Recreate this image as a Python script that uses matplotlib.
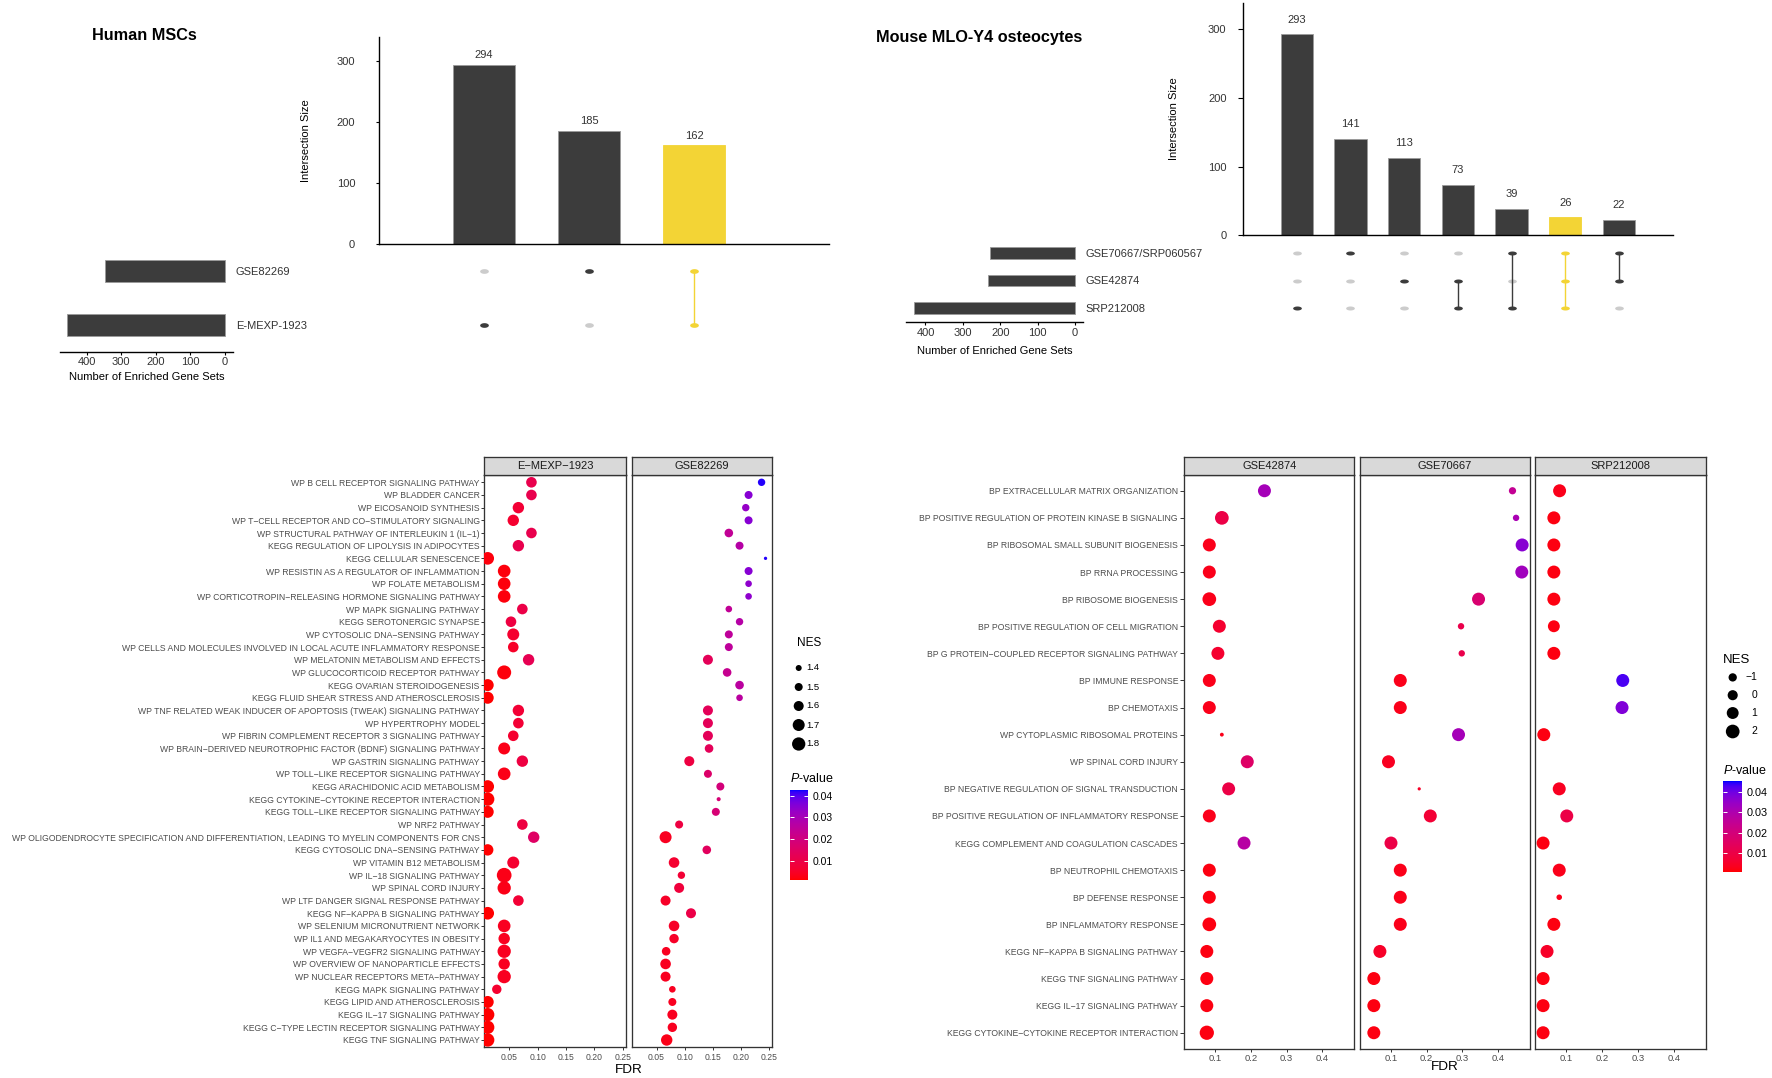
import numpy as np
import matplotlib
matplotlib.use('Agg')
import matplotlib.pyplot as plt
from matplotlib.path import Path
from matplotlib.markers import MarkerStyle
from matplotlib.colors import ListedColormap, Normalize
from matplotlib.cm import ScalarMappable

# ---------------- data ----------------
human_sets = ['GSE82269', 'E-MEXP-1923']
human_set_sizes = [347, 456]
human_inter_sizes = [294, 185, 162]
human_inter_members = [[1], [0], [0, 1]]
human_highlight = 2

mouse_sets = ['GSE70667/SRP060567', 'GSE42874', 'SRP212008']
mouse_set_sizes = [228, 234, 431]
mouse_inter_sizes = [293, 141, 113, 73, 39, 26, 22]
mouse_inter_members = [[2], [0], [1], [1, 2], [0, 2], [0, 1, 2], [0, 1]]
mouse_highlight = 5

human_terms = [
    'WP B CELL RECEPTOR SIGNALING PATHWAY', 'WP BLADDER CANCER', 'WP EICOSANOID SYNTHESIS',
    'WP T-CELL RECEPTOR AND CO-STIMULATORY SIGNALING', 'WP STRUCTURAL PATHWAY OF INTERLEUKIN 1 (IL-1)',
    'KEGG REGULATION OF LIPOLYSIS IN ADIPOCYTES', 'KEGG CELLULAR SENESCENCE',
    'WP RESISTIN AS A REGULATOR OF INFLAMMATION', 'WP FOLATE METABOLISM',
    'WP CORTICOTROPIN-RELEASING HORMONE SIGNALING PATHWAY', 'WP MAPK SIGNALING PATHWAY',
    'KEGG SEROTONERGIC SYNAPSE', 'WP CYTOSOLIC DNA-SENSING PATHWAY',
    'WP CELLS AND MOLECULES INVOLVED IN LOCAL ACUTE INFLAMMATORY RESPONSE',
    'WP MELATONIN METABOLISM AND EFFECTS', 'WP GLUCOCORTICOID RECEPTOR PATHWAY',
    'KEGG OVARIAN STEROIDOGENESIS', 'KEGG FLUID SHEAR STRESS AND ATHEROSCLEROSIS',
    'WP TNF RELATED WEAK INDUCER OF APOPTOSIS (TWEAK) SIGNALING PATHWAY', 'WP HYPERTROPHY MODEL',
    'WP FIBRIN COMPLEMENT RECEPTOR 3 SIGNALING PATHWAY',
    'WP BRAIN-DERIVED NEUROTROPHIC FACTOR (BDNF) SIGNALING PATHWAY', 'WP GASTRIN SIGNALING PATHWAY',
    'WP TOLL-LIKE RECEPTOR SIGNALING PATHWAY', 'KEGG ARACHIDONIC ACID METABOLISM',
    'KEGG CYTOKINE-CYTOKINE RECEPTOR INTERACTION', 'KEGG TOLL-LIKE RECEPTOR SIGNALING PATHWAY',
    'WP NRF2 PATHWAY',
    'WP OLIGODENDROCYTE SPECIFICATION AND DIFFERENTIATION, LEADING TO MYELIN COMPONENTS FOR CNS',
    'KEGG CYTOSOLIC DNA-SENSING PATHWAY', 'WP VITAMIN B12 METABOLISM', 'WP IL-18 SIGNALING PATHWAY',
    'WP SPINAL CORD INJURY', 'WP LTF DANGER SIGNAL RESPONSE PATHWAY', 'KEGG NF-KAPPA B SIGNALING PATHWAY',
    'WP SELENIUM MICRONUTRIENT NETWORK', 'WP IL1 AND MEGAKARYOCYTES IN OBESITY',
    'WP VEGFA-VEGFR2 SIGNALING PATHWAY', 'WP OVERVIEW OF NANOPARTICLE EFFECTS',
    'WP NUCLEAR RECEPTORS META-PATHWAY', 'KEGG MAPK SIGNALING PATHWAY', 'KEGG LIPID AND ATHEROSCLEROSIS',
    'KEGG IL-17 SIGNALING PATHWAY', 'KEGG C-TYPE LECTIN RECEPTOR SIGNALING PATHWAY',
    'KEGG TNF SIGNALING PATHWAY']

human_panels = ['E-MEXP-1923', 'GSE82269']
emexp_fdr = [0.089, 0.089, 0.066, 0.057, 0.089, 0.066, 0.012, 0.041, 0.041, 0.041,
             0.073, 0.053, 0.057, 0.057, 0.084, 0.041, 0.012, 0.012, 0.066, 0.066,
             0.057, 0.041, 0.073, 0.041, 0.012, 0.012, 0.012, 0.073, 0.093, 0.012,
             0.057, 0.041, 0.041, 0.066, 0.012, 0.041, 0.041, 0.041, 0.041, 0.041,
             0.028, 0.012, 0.012, 0.012, 0.012]
emexp_p = [0.011, 0.011, 0.007, 0.006, 0.011, 0.011, 0.002, 0.002, 0.002, 0.002,
           0.010, 0.009, 0.006, 0.005, 0.012, 0.002, 0.001, 0.001, 0.007, 0.007,
           0.006, 0.003, 0.009, 0.003, 0.001, 0.001, 0.001, 0.009, 0.015, 0.001,
           0.006, 0.003, 0.003, 0.007, 0.001, 0.004, 0.004, 0.004, 0.004, 0.004,
           0.006, 0.001, 0.001, 0.001, 0.001]
emexp_nes = [1.63, 1.63, 1.67, 1.67, 1.63, 1.67, 1.75, 1.75, 1.75, 1.75,
             1.63, 1.63, 1.70, 1.63, 1.67, 1.85, 1.70, 1.70, 1.67, 1.63,
             1.63, 1.70, 1.67, 1.75, 1.75, 1.80, 1.70, 1.63, 1.67, 1.67,
             1.70, 1.90, 1.80, 1.63, 1.75, 1.75, 1.67, 1.80, 1.67, 1.80,
             1.57, 1.70, 1.80, 1.80, 1.80]
gse82269_fdr = [0.236, 0.213, 0.208, 0.213, 0.178, 0.197, 0.243, 0.213, 0.213, 0.213,
                0.178, 0.197, 0.178, 0.178, 0.141, 0.175, 0.197, 0.197, 0.141, 0.141,
                0.141, 0.143, 0.108, 0.141, 0.163, 0.160, 0.155, 0.090, 0.066, 0.139,
                0.081, 0.094, 0.090, 0.066, 0.111, 0.081, 0.081, 0.067, 0.066, 0.066,
                0.078, 0.078, 0.078, 0.078, 0.068]
gse82269_p = [0.042, 0.035, 0.033, 0.035, 0.024, 0.027, 0.042, 0.035, 0.034, 0.034,
              0.024, 0.027, 0.025, 0.025, 0.013, 0.023, 0.026, 0.026, 0.013, 0.013,
              0.013, 0.013, 0.009, 0.016, 0.019, 0.018, 0.018, 0.009, 0.004, 0.014,
              0.006, 0.007, 0.008, 0.005, 0.010, 0.005, 0.005, 0.004, 0.004, 0.004,
              0.004, 0.004, 0.004, 0.004, 0.003]
gse82269_nes = [1.47, 1.50, 1.47, 1.50, 1.53, 1.50, 1.22, 1.50, 1.43, 1.43,
                1.43, 1.47, 1.50, 1.50, 1.60, 1.53, 1.53, 1.43, 1.60, 1.60,
                1.60, 1.53, 1.60, 1.50, 1.50, 1.27, 1.50, 1.50, 1.70, 1.53,
                1.63, 1.47, 1.60, 1.60, 1.60, 1.63, 1.57, 1.53, 1.63, 1.60,
                1.43, 1.50, 1.60, 1.57, 1.67]

mouse_terms = [
    'BP EXTRACELLULAR MATRIX ORGANIZATION', 'BP POSITIVE REGULATION OF PROTEIN KINASE B SIGNALING',
    'BP RIBOSOMAL SMALL SUBUNIT BIOGENESIS', 'BP RRNA PROCESSING', 'BP RIBOSOME BIOGENESIS',
    'BP POSITIVE REGULATION OF CELL MIGRATION', 'BP G PROTEIN-COUPLED RECEPTOR SIGNALING PATHWAY',
    'BP IMMUNE RESPONSE', 'BP CHEMOTAXIS', 'WP CYTOPLASMIC RIBOSOMAL PROTEINS', 'WP SPINAL CORD INJURY',
    'BP NEGATIVE REGULATION OF SIGNAL TRANSDUCTION', 'BP POSITIVE REGULATION OF INFLAMMATORY RESPONSE',
    'KEGG COMPLEMENT AND COAGULATION CASCADES', 'BP NEUTROPHIL CHEMOTAXIS', 'BP DEFENSE RESPONSE',
    'BP INFLAMMATORY RESPONSE', 'KEGG NF-KAPPA B SIGNALING PATHWAY', 'KEGG TNF SIGNALING PATHWAY',
    'KEGG IL-17 SIGNALING PATHWAY', 'KEGG CYTOKINE-CYTOKINE RECEPTOR INTERACTION']

mouse_panels = ['GSE42874', 'GSE70667', 'SRP212008']
gse42874_fdr = [0.238, 0.119, 0.084, 0.084, 0.084, 0.112, 0.108, 0.084, 0.084, 0.119, 0.190,
                0.138, 0.084, 0.181, 0.084, 0.084, 0.084, 0.077, 0.077, 0.077, 0.077]
gse42874_p = [0.032, 0.010, 0.003, 0.003, 0.003, 0.006, 0.006, 0.003, 0.003, 0.003, 0.016,
              0.010, 0.003, 0.028, 0.002, 0.002, 0.002, 0.002, 0.002, 0.002, 0.002]
gse42874_nes = [1.6, 2.0, 1.6, 1.6, 2.0, 1.6, 1.6, 1.6, 1.6, -3.1, 1.6,
                1.6, 1.6, 1.6, 1.6, 1.6, 2.0, 1.6, 1.6, 1.6, 2.3]
gse70667_fdr = [0.440, 0.450, 0.467, 0.466, 0.345, 0.296, 0.298, 0.126, 0.126, 0.289, 0.093,
                0.179, 0.210, 0.100, 0.126, 0.126, 0.126, 0.069, 0.052, 0.052, 0.052]
gse70667_p = [0.025, 0.031, 0.037, 0.033, 0.018, 0.011, 0.011, 0.003, 0.003, 0.032, 0.004,
              0.005, 0.007, 0.010, 0.003, 0.003, 0.003, 0.005, 0.002, 0.002, 0.002]
gse70667_nes = [-1.5, -1.9, 1.6, 1.6, 1.6, -1.9, -1.9, 1.6, 1.6, 1.6, 1.6,
                -3.4, 1.6, 1.6, 1.6, 1.6, 1.6, 1.6, 1.6, 1.6, 1.6]
srp212008_fdr = [0.081, 0.065, 0.065, 0.065, 0.065, 0.065, 0.065, 0.257, 0.255, 0.037, np.nan,
                 0.080, 0.101, 0.035, 0.080, 0.080, 0.065, 0.046, 0.035, 0.035, 0.035]
srp212008_p = [0.003, 0.002, 0.002, 0.002, 0.002, 0.002, 0.002, 0.043, 0.038, 0.002, np.nan,
               0.004, 0.010, 0.002, 0.003, 0.003, 0.002, 0.005, 0.002, 0.002, 0.002]
srp212008_nes = [1.6, 1.6, 1.6, 1.6, 1.6, 1.0, 1.6, 1.6, 1.6, 1.6, np.nan,
                 1.6, 1.6, 1.6, 1.6, -2.3, 1.6, 1.6, 1.6, 1.6, 1.6]

human_nes_breaks = [1.4, 1.5, 1.6, 1.7, 1.8]
mouse_nes_breaks = [-1, 0, 1, 2]
pvalue_breaks = [0.01, 0.02, 0.03, 0.04]

# ---------------- style ----------------
W, H = 1772, 1078
DARK = '#3c3c3c'
BAR_EDGE = '#9a9a9a'
LIGHT = '#cccccc'
YELLOW = '#f3d435'
EDGE = '#333333'
TXT = '#4d4d4d'

plt.rcParams['font.family'] = ['Liberation Sans', 'DejaVu Sans']
plt.rcParams['mathtext.fontset'] = 'custom'
plt.rcParams['mathtext.rm'] = 'Liberation Sans'
plt.rcParams['mathtext.it'] = 'Liberation Sans:italic'


def lab_cmap(c0, c1, n=256):
    # ggplot-like gradient, interpolated in CIE Lab
    M = np.array([[0.4124, 0.3576, 0.1805], [0.2126, 0.7152, 0.0722], [0.0193, 0.1192, 0.9505]])
    Minv = np.linalg.inv(M)
    white = np.array([0.95047, 1.0, 1.08883])
    d = 6 / 29

    def to_lab(rgb):
        c = np.array(rgb, float)
        lin = np.where(c <= 0.04045, c / 12.92, ((c + 0.055) / 1.055) ** 2.4)
        xyz = M @ lin / white
        f = np.where(xyz > d ** 3, np.cbrt(xyz), xyz / (3 * d ** 2) + 4 / 29)
        return np.array([116 * f[1] - 16, 500 * (f[0] - f[1]), 200 * (f[1] - f[2])])

    def to_rgb(lab):
        fy = (lab[0] + 16) / 116
        f = np.array([fy + lab[1] / 500, fy, fy - lab[2] / 200])
        xyz = np.where(f > d, f ** 3, 3 * d ** 2 * (f - 4 / 29)) * white
        lin = np.clip(Minv @ xyz, 0, None)
        c = np.where(lin <= 0.0031308, 12.92 * lin, 1.055 * lin ** (1 / 2.4) - 0.055)
        return np.clip(c, 0, 1)

    l0, l1 = to_lab(c0), to_lab(c1)
    return ListedColormap([to_rgb(l0 + (l1 - l0) * t) for t in np.linspace(0, 1, n)])


CMAP = lab_cmap((1, 0, 0), (0, 0, 1))

fig = plt.figure(figsize=(W / 100, H / 100), dpi=100)


def px_axes(x0, y0, x1, y1):
    return fig.add_axes([x0 / W, 1 - y1 / H, (x1 - x0) / W, (y1 - y0) / H])


def pt(px):
    return px * 0.72


def ellipse_marker(ratio):
    t = np.linspace(0, 2 * np.pi, 64)
    return MarkerStyle(Path(np.column_stack([np.cos(t), ratio * np.sin(t)]), closed=True))


def dm(t):
    return t.replace('-', '\u2212')


def draw_upset(title, sets, set_sizes, inter_sizes, members, hl, bar_box, xmax, mat_box,
               set_box, set_xlim, bar_w, set_h, dot_ratio, ylab_x, title_xy, lab_off,
               ypad, ytick_len, xlab_y):
    n = len(inter_sizes)
    xs = np.arange(1, n + 1)
    ax = px_axes(*bar_box)
    colors = [YELLOW if i == hl else DARK for i in range(n)]
    edges = [YELLOW if i == hl else BAR_EDGE for i in range(n)]
    ax.bar(xs, inter_sizes, width=bar_w, color=colors, edgecolor=edges, linewidth=0.6)
    for xi, v in zip(xs, inter_sizes):
        ax.annotate(str(v), (xi, v), xytext=(0, lab_off), textcoords='offset points',
                    ha='center', va='bottom', fontsize=8, color='#333333')
    ax.set_xlim(0, xmax)
    ax.set_ylim(0, 339)
    ax.set_xticks([])
    ax.set_yticks([0, 100, 200, 300])
    for s in ['top', 'right']:
        ax.spines[s].set_visible(False)
    for s in ['left', 'bottom']:
        ax.spines[s].set_linewidth(1.0)
        ax.spines[s].set_color('black')
    ax.tick_params(axis='y', length=ytick_len, width=0.8, pad=ypad, labelsize=8, labelcolor='#333333')
    ax.text((ylab_x - bar_box[0]) / (bar_box[2] - bar_box[0]), 0.5, 'Intersection Size',
            transform=ax.transAxes, rotation=90, ha='center', va='center', fontsize=8)

    # matrix
    mx = px_axes(*mat_box)
    mx.set_xlim(0, xmax)
    mx.set_ylim(len(sets) - 0.5, -0.5)
    mx.axis('off')
    mk = ellipse_marker(dot_ratio)
    ms = pt(8.7)
    for xi, mem in zip(xs, members):
        for r in range(len(sets)):
            if r not in mem:
                mx.plot(xi, r, marker=mk, ms=ms, color=LIGHT, mew=0, zorder=1)
    for i, (xi, mem) in enumerate(zip(xs, members)):
        c = YELLOW if i == hl else DARK
        if len(mem) > 1:
            mx.plot([xi, xi], [min(mem), max(mem)], color=c, lw=1.0, zorder=2)
        for r in mem:
            mx.plot(xi, r, marker=mk, ms=ms, color=c, mew=0, zorder=3)

    # set sizes
    sx = px_axes(*set_box)
    sx.barh(np.arange(len(sets)), set_sizes, height=set_h, color=DARK, edgecolor=BAR_EDGE,
            linewidth=0.6)
    sx.set_xlim(*set_xlim)
    sx.set_ylim(len(sets) - 0.5, -0.5)
    for s in ['top', 'right', 'left']:
        sx.spines[s].set_visible(False)
    sx.spines['bottom'].set_linewidth(1.0)
    sx.set_xticks([0, 100, 200, 300, 400])
    sx.tick_params(axis='x', length=2.4, width=0.8, pad=1.5, labelsize=8, labelcolor='#333333')
    sx.yaxis.tick_right()
    sx.set_yticks(np.arange(len(sets)))
    sx.set_yticklabels(sets)
    sx.tick_params(axis='y', length=0, pad=2, labelsize=8, labelcolor='#333333')
    sx.text(0.5, (set_box[3] - xlab_y) / (set_box[3] - set_box[1]), 'Number of Enriched Gene Sets',
            transform=sx.transAxes, ha='center', va='center', fontsize=8)

    fig.text(title_xy[0] / W, 1 - title_xy[1] / H, title, fontsize=11.7, fontweight='bold',
             ha='left', va='center')


draw_upset('Human MSCs', human_sets, human_set_sizes, human_inter_sizes, human_inter_members,
           human_highlight, bar_box=(379, 37.3, 829, 244.3), xmax=4.286,
           mat_box=(379, 244, 829, 352), set_box=(60, 244, 233, 352), set_xlim=(477, -23),
           bar_w=0.59, set_h=0.42, dot_ratio=0.54, ylab_x=306, title_xy=(92, 36), lab_off=3.5,
           ypad=15, ytick_len=2.2, xlab_y=376.7)

draw_upset('Mouse MLO-Y4 osteocytes', mouse_sets, mouse_set_sizes, mouse_inter_sizes,
           mouse_inter_members, mouse_highlight, bar_box=(1243, 2.7, 1672.7, 235.3), xmax=8.0,
           mat_box=(1243, 238.8, 1672.7, 322.2), set_box=(906, 238.8, 1083, 322.2),
           set_xlim=(452, -21), bar_w=0.6, set_h=0.43, dot_ratio=0.46, ylab_x=1174,
           title_xy=(876, 37.7), lab_off=7, ypad=8.6, ytick_len=3.3, xlab_y=351)


# ---------------- dot plots ----------------
def human_size(nes):
    return np.interp(nes, [1.2, 1.4, 1.5, 1.6, 1.7, 1.8, 1.9], [3, 6, 8, 10, 12, 13.3, 14.7])


def mouse_size(nes):
    return np.interp(nes, [-3.5, -1, 0, 1, 2, 3], [3, 8.3, 10.1, 11.9, 13.7, 15.5])


def draw_dots(names, series, terms, xbounds, strip_top, top, bottom, ylim, xlim, xticks,
              xticklabels, norm, size_fn, tick_len, tick_pad, xtick_fs, xtick_pad, fdr_xy):
    rows = np.arange(1, len(terms) + 1)
    for k, (name, (fdr, p, nes)) in enumerate(zip(names, series)):
        x0, x1 = xbounds[k]
        ax = px_axes(x0, top, x1, bottom)
        d = size_fn(np.array(nes, float))
        ax.scatter(fdr, rows, s=pt(d) ** 2, c=p, cmap=CMAP, norm=norm, edgecolors='none', zorder=3)
        ax.set_xlim(*xlim)
        ax.set_ylim(*ylim)
        for s in ax.spines.values():
            s.set_color(EDGE)
            s.set_linewidth(0.95)
        ax.set_xticks(xticks)
        ax.set_xticklabels(xticklabels)
        ax.tick_params(axis='x', length=2.2, width=0.7, color=EDGE, pad=xtick_pad,
                       labelsize=xtick_fs, labelcolor=TXT)
        ax.set_yticks(rows)
        if k == 0:
            ax.set_yticklabels([dm(t) for t in terms])
            ax.tick_params(axis='y', length=tick_len, width=0.7, color=EDGE, pad=tick_pad,
                           labelsize=6.2, labelcolor=TXT)
        else:
            ax.set_yticklabels([])
            ax.tick_params(axis='y', length=0)
        st = px_axes(x0, strip_top, x1, top)
        st.set_facecolor('#d9d9d9')
        st.set_xticks([])
        st.set_yticks([])
        for s in st.spines.values():
            s.set_color(EDGE)
            s.set_linewidth(0.95)
        st.text(0.5, 0.5, dm(name), ha='center', va='center', fontsize=8, color='#1a1a1a',
                transform=st.transAxes)
    fig.text(fdr_xy[0] / W, 1 - fdr_xy[1] / H, 'FDR', ha='center', va='center', fontsize=9.7)


human_norm = Normalize(0.0011, 0.0426)
mouse_norm = Normalize(0.0007, 0.0452)

draw_dots(human_panels,
          [(emexp_fdr, emexp_p, emexp_nes), (gse82269_fdr, gse82269_p, gse82269_nes)],
          human_terms, xbounds=[(484.3, 625.7), (631.7, 772.3)], strip_top=456.7, top=475,
          bottom=1047.3, ylim=(45.576, 0.424), xlim=(0.006, 0.255),
          xticks=[0.05, 0.10, 0.15, 0.20, 0.25], xticklabels=['0.05', '0.10', '0.15', '0.20', '0.25'],
          norm=human_norm, size_fn=human_size, tick_len=2.4, tick_pad=0.8, xtick_fs=6.2,
          xtick_pad=2.2, fdr_xy=(629, 1070))

draw_dots(mouse_panels,
          [(gse42874_fdr, gse42874_p, gse42874_nes), (gse70667_fdr, gse70667_p, gse70667_nes),
           (srp212008_fdr, srp212008_p, srp212008_nes)],
          mouse_terms, xbounds=[(1184, 1354.3), (1360, 1530), (1535.3, 1706)], strip_top=456.7,
          top=474.5, bottom=1049, ylim=(21.6, 0.4), xlim=(0.0133, 0.489),
          xticks=[0.1, 0.2, 0.3, 0.4], xticklabels=['0.1', '0.2', '0.3', '0.4'],
          norm=mouse_norm, size_fn=mouse_size, tick_len=2.9, tick_pad=1.4, xtick_fs=6.8,
          xtick_pad=1.2, fdr_xy=(1445, 1067))


# ---------------- legends ----------------
def size_legend(breaks, size_fn, title, title_xy, dot_x, label_x, ys, label_ha, title_fs, label_fs):
    lx = fig.add_axes([0, 0, 1, 1], facecolor='none')
    lx.set_xlim(0, W)
    lx.set_ylim(H, 0)
    lx.axis('off')
    lx.text(title_xy[0], title_xy[1], title, ha='left', va='center', fontsize=title_fs)
    d = size_fn(np.array(breaks, float))
    lx.scatter([dot_x] * len(breaks), ys, s=pt(d) ** 2, color='black', edgecolors='none')
    for b, y in zip(breaks, ys):
        lx.text(label_x, y, dm(f'{b:g}'), ha=label_ha, va='center', fontsize=label_fs)


def pvalue_bar(box, norm, title_xy, pad, fs):
    cax = px_axes(*box)
    cb = fig.colorbar(ScalarMappable(norm=norm, cmap=CMAP), cax=cax, ticks=pvalue_breaks)
    cb.outline.set_visible(False)
    cax.tick_params(left=True, right=True, labelleft=False, labelright=True, direction='in',
                    length=3, width=0.7, color='white', pad=pad, labelsize=fs)
    fig.text(title_xy[0] / W, 1 - title_xy[1] / H, r'$P$-value', ha='left', va='center', fontsize=9)


size_legend(human_nes_breaks, human_size, 'NES', (797, 643), 798.7, 806, [668, 687, 706, 725, 744],
            'left', 8.5, 6.8)
pvalue_bar((790, 790, 807.7, 880), human_norm, (790, 779), 3.8, 7.5)

size_legend(mouse_nes_breaks, mouse_size, 'NES', (1723, 659.6), 1732.7, 1757,
            [677.4, 695.2, 713, 731.5], 'right', 9.5, 7.5)
pvalue_bar((1723, 781.4, 1742, 872.3), mouse_norm, (1723, 770.3), 3.6, 7.8)

fig.savefig('out.png', dpi=100)
